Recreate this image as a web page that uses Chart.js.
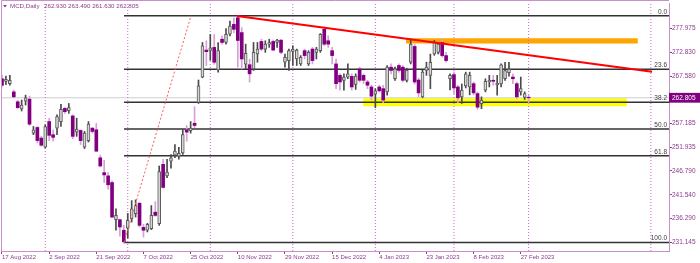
<!DOCTYPE html>
<html><head><meta charset="utf-8">
<script src="https://cdn.jsdelivr.net/npm/chart.js@4.4.1/dist/chart.umd.min.js"></script>
<style>html,body{margin:0;padding:0;background:#fff;}#wrap{width:700px;height:263px;}</style>
</head><body><div id="wrap"><canvas id="c" width="700" height="263"></canvas></div>
<script>
// ---------- data ----------
const symbolTitle = 'MCD,Daily';
const lastBarOHLC = ['262.930', '263.490', '261.630', '262.805'];
const opens = [266.98,266.42,265.90,264.10,261.93,260.35,262.08,262.51,255.05,256.29,253.97,251.95,257.59,254.71,256.14,257.59,260.48,259.98,258.83,255.27,
255.64,251.95,253.41,256.14,255.79,249.64,246.38,245.67,244.21,236.06,236.06,233.74,234.18,236.28,237.36,239.66,234.39,233.74,234.11,237.71,
235.19,248.21,245.67,248.92,250.22,249.97,250.72,255.79,255.58,257.22,261.78,267.35,273.27,273.21,273.86,268.93,275.65,274.94,276.74,278.91,
280.36,277.11,270.17,270.06,269.15,272.40,275.16,273.49,274.57,275.16,274.94,275.44,270.60,270.97,272.99,271.32,270.23,273.14,270.23,273.49,
272.77,273.14,277.82,275.31,273.14,270.23,267.72,266.64,267.35,267.50,265.72,269.15,267.72,266.27,265.18,263.60,265.18,264.81,264.10,269.52,
266.98,269.89,269.52,266.64,270.60,274.07,266.70,263.01,268.80,267.72,272.40,272.77,274.94,272.06,266.98,267.89,265.18,263.01,265.40,265.18,
265.90,263.73,261.50,264.47,266.27,266.64,265.62,265.83,266.98,268.33,267.35,265.90,264.10,262.86,262.93];
const highs = [267.78,267.57,267.72,264.47,262.30,262.30,263.38,263.17,256.51,256.51,254.34,256.88,258.31,255.79,259.05,261.34,260.63,261.56,259.05,258.31,
255.79,255.42,257.59,256.29,257.22,250.22,249.07,246.38,244.58,238.45,236.20,234.82,237.43,240.25,240.40,239.88,235.04,235.26,239.16,240.03,
247.84,249.29,249.29,250.37,252.54,251.96,255.79,256.72,257.59,260.85,266.70,274.94,275.31,276.67,276.67,274.94,276.39,277.98,279.65,280.36,
280.79,278.19,274.57,271.25,274.94,274.94,275.65,275.31,275.65,275.44,275.65,275.65,272.40,273.49,274.22,273.49,272.06,273.49,273.14,273.86,
273.86,276.89,278.34,276.39,273.86,271.32,268.06,268.06,270.23,268.06,268.06,269.52,268.06,266.64,265.55,264.81,265.55,265.55,269.89,270.23,
269.52,270.23,269.89,269.30,275.65,274.50,267.13,268.87,270.60,272.40,275.37,274.94,275.65,272.77,268.06,268.43,265.55,265.83,268.43,268.43,
266.27,264.10,263.01,266.98,267.72,267.72,267.72,270.23,270.60,270.60,268.06,266.27,267.35,264.10,263.49];
const lows = [265.18,265.68,265.55,262.80,260.48,259.91,261.21,256.73,254.71,252.89,252.17,251.80,253.41,253.26,254.71,256.51,259.39,259.39,253.84,254.34,
252.54,251.67,253.10,255.05,250.94,247.62,244.21,242.78,236.50,233.74,232.44,230.95,232.01,235.54,236.63,234.46,232.22,233.37,233.89,236.78,
234.82,243.00,245.30,247.34,249.64,249.35,250.37,253.26,255.05,256.29,261.56,267.20,269.89,271.04,270.17,268.43,274.57,274.57,276.39,277.11,
269.52,269.15,269.15,266.27,268.80,270.60,273.14,272.77,273.86,273.14,273.86,272.40,269.52,268.80,269.89,269.89,269.89,271.32,269.89,270.23,
271.32,272.77,274.22,273.86,270.23,264.81,264.47,264.47,266.98,264.47,264.64,266.27,265.90,264.81,262.30,260.63,264.10,261.71,263.38,268.06,
266.64,268.43,266.27,266.27,270.23,265.83,263.01,262.80,267.72,264.81,272.12,272.40,271.69,270.60,264.53,263.73,261.71,261.56,264.96,263.45,
263.45,260.30,260.41,264.10,265.18,265.55,263.38,265.18,266.64,267.57,265.90,262.64,263.38,262.43,261.63];
const closes = [265.55,266.85,266.64,263.01,260.63,261.21,262.80,257.01,255.79,253.41,252.39,256.51,254.56,254.12,258.68,260.26,259.76,260.63,254.34,255.92,
253.41,255.05,257.01,255.42,251.09,247.84,245.88,243.72,236.63,236.99,234.46,231.20,235.91,238.45,239.16,234.82,233.74,235.04,236.99,236.99,
246.60,243.13,246.53,249.64,251.09,250.62,254.71,255.27,256.14,256.73,265.40,274.22,272.92,273.75,270.60,273.14,274.94,276.74,278.56,277.82,
275.37,271.32,272.55,268.06,272.77,273.49,273.49,274.57,274.94,273.27,275.44,272.77,271.69,273.14,273.49,273.27,271.69,272.06,272.77,270.97,
273.49,276.74,274.57,274.57,272.06,265.90,266.27,267.35,268.06,265.18,267.57,266.64,266.64,265.55,263.17,264.32,264.32,262.30,269.52,268.80,
269.15,268.80,266.64,268.80,274.57,266.27,263.88,268.43,269.52,270.60,274.94,274.57,272.06,270.97,267.72,264.96,262.80,264.47,268.06,267.72,
263.88,260.74,262.30,266.42,266.64,266.42,266.05,270.06,268.76,269.08,266.98,263.01,264.81,263.73,262.805];
const xTickIdx = [0, 12, 24, 36, 48, 60, 72, 84, 96, 108, 120, 132];
const xTickLabels = ['17 Aug 2022','2 Sep 2022','21 Sep 2022','7 Oct 2022','25 Oct 2022','10 Nov 2022','29 Nov 2022','15 Dec 2022','4 Jan 2023','23 Jan 2023','8 Feb 2023','27 Feb 2023'];
const yTickValues = [277.975, 272.830, 267.580, 262.805, 257.185, 251.935, 246.790, 241.540, 236.290, 231.145];
const lastPrice = 262.805;
const separatorIdx = [11, 32, 53, 74, 95, 115, 134, 165.1];
const fibLevels = [0, 23.6, 38.2, 50, 61.8, 100];
const fibHighPrice = 280.79;
const fibLowPrice = 231.07;
const fibStartIdx = 31.05;
const trendLine = [{x: 59.8, y: 280.73}, {x: 165.4, y: 268.50}];
const fibDiagonal = [{x: 31.05, y: 231.07}, {x: 48.1, y: 280.79}];
const orangeZone = {x1: 102.8, x2: 161.8, top: 275.87, bottom: 274.72};
const yellowZone = {x1: 91.9, x2: 159.0, top: 262.69, bottom: 260.95};
const xMin = -0.254, xMax = 169.72;
const yMin = 229.19, yMax = 283.40;

// ---------- styles ----------
const FONT = "'Liberation Sans', Arial, sans-serif";
const TXT = '#8e3b8e';
const FRAME = '#c890c8';

const idx = opens.map((_, i) => i);
const isUp = i => closes[i] >= opens[i];
const bodyData = idx.map(i => ({x: i, y: [Math.min(opens[i], closes[i]), Math.max(opens[i], closes[i])]}));
const wickData = idx.map(i => ({x: i, y: [lows[i], highs[i]]}));

function lineDs(points, color, width, dash, order, extra) {
  return Object.assign({type: 'line', data: points, borderColor: color, borderWidth: width, borderDash: dash || [],
    pointRadius: 0, fill: false, tension: 0, order: order}, extra || {});
}

const datasets = [];
datasets.push({type: 'bar', data: bodyData, barThickness: 3, grouped: false, borderSkipped: false, order: 1,
  backgroundColor: c => isUp(c.dataIndex) ? '#d6d6d6' : '#800080',
  borderColor: c => isUp(c.dataIndex) ? '#5a5a5a' : '#800080',
  borderWidth: c => isUp(c.dataIndex) ? 1 : 0});
datasets.push({type: 'bar', data: wickData, barThickness: 1, grouped: false, borderWidth: 0, order: 2,
  backgroundColor: c => isUp(c.dataIndex) ? '#4a4a4a' : '#d8a0d8'});
datasets.push(lineDs(trendLine, '#ff0000', 2, [], 0));
datasets.push(lineDs(fibDiagonal, '#ff5a5a', 1, [2, 2], 0));
separatorIdx.forEach(s => datasets.push(lineDs([{x: s, y: yMin}, {x: s, y: yMax}], '#cc66cc', 1, [1, 2], 3)));
fibLevels.forEach(L => {
  const p = fibHighPrice - (fibHighPrice - fibLowPrice) * L / 100;
  datasets.push(lineDs([{x: fibStartIdx, y: p}, {x: xMax, y: p}], '#333333', 1.5, [], 4));
});
datasets.push(lineDs([{x: xMin, y: lastPrice}, {x: xMax, y: lastPrice}], '#cfcfcf', 1, [], 5));
[[orangeZone, '#ffa500'], [yellowZone, '#ffff00']].forEach(([z, col]) => {
  datasets.push(lineDs([{x: z.x1, y: z.top}, {x: z.x2, y: z.top}], col, 0, [], 6,
    {backgroundColor: col, fill: {value: z.bottom}}));
});

const overlay = {
  id: 'overlay',
  afterDatasetsDraw(chart) {
    const {ctx, chartArea: a, scales: {y}} = chart;
    ctx.save();
    ctx.font = '6.5px ' + FONT;
    ctx.fillStyle = '#404040';
    ctx.textAlign = 'right';
    ctx.textBaseline = 'bottom';
    fibLevels.forEach(L => {
      const p = fibHighPrice - (fibHighPrice - fibLowPrice) * L / 100;
      ctx.fillText(L.toFixed(1), a.right - 2, y.getPixelForValue(p) - 0.5);
    });
    ctx.restore();
  },
  afterDraw(chart) {
    const {ctx, chartArea: a} = chart;
    ctx.save();
    ctx.strokeStyle = FRAME; ctx.lineWidth = 1;
    ctx.beginPath();
    ctx.moveTo(a.left + 0.5, a.bottom); ctx.lineTo(a.left + 0.5, 0.5); ctx.lineTo(a.right, 0.5);
    ctx.stroke();
    ctx.fillStyle = TXT;
    ctx.beginPath(); ctx.moveTo(3, 5); ctx.lineTo(7, 5); ctx.lineTo(5, 7.5); ctx.closePath(); ctx.fill();
    ctx.font = '6.2px ' + FONT;
    ctx.textAlign = 'left'; ctx.textBaseline = 'middle';
    ctx.fillText(symbolTitle, 10, 6);
    ctx.fillText(lastBarOHLC.join(' '), 44, 6);
    ctx.restore();
  }
};

new Chart(document.getElementById('c'), {
  type: 'bar',
  data: {datasets},
  options: {
    responsive: false, animation: false, devicePixelRatio: 1,
    layout: {padding: {left: 1, top: 1, right: 0, bottom: 0}},
    plugins: {legend: {display: false}, tooltip: {enabled: false}},
    events: [],
    scales: {
      x: {
        type: 'linear', min: xMin, max: xMax, offset: false,
        afterBuildTicks: s => { s.ticks = xTickIdx.map(v => ({value: v})); },
        afterFit: s => { s.height = 12; },
        grid: {display: true, drawOnChartArea: false, drawTicks: true, tickLength: 3, color: TXT, offset: false},
        border: {display: true, color: FRAME},
        ticks: {autoSkip: false, maxRotation: 0, minRotation: 0, align: 'start', padding: 0,
          color: TXT, font: {family: FONT, size: 6},
          callback: v => xTickLabels[xTickIdx.indexOf(v)]}
      },
      y: {
        type: 'linear', position: 'right', min: yMin, max: yMax,
        afterBuildTicks: s => { s.ticks = yTickValues.map(v => ({value: v})); },
        afterFit: s => { s.width = 31; },
        grid: {display: true, drawOnChartArea: false, drawTicks: true, tickLength: 3, color: TXT},
        border: {display: true, color: FRAME},
        ticks: {padding: 0, font: {family: FONT, size: 6.5},
          color: c => (c.tick && c.tick.value === lastPrice) ? '#ffffff' : TXT,
          showLabelBackdrop: c => !!(c.tick && c.tick.value === lastPrice),
          backdropColor: '#800080',
          backdropPadding: {left: 3, right: 6, top: 1, bottom: 1},
          callback: v => v.toFixed(3)}
      }
    }
  },
  plugins: [overlay]
});
</script></body></html>
